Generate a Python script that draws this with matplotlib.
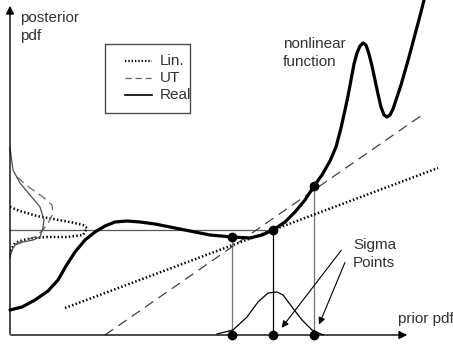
#  Unscented transform sketch: nonlinear function, linearisation vs UT
import numpy as np
import matplotlib.pyplot as plt

plt.rcParams['font.family'] = ['Liberation Sans', 'DejaVu Sans']

# nonlinear function (pixel units, y down)
fx = [10, 22, 35, 48, 58, 66, 75, 85, 95, 105, 115, 127, 140, 155, 170, 190,
      210, 232, 250, 262, 273, 285, 295, 305, 314, 322, 330, 336, 341, 345,
      348, 351, 354, 357, 360, 363, 366, 369, 372, 375, 378, 381, 384, 387,
      390, 393, 397, 401, 405, 409, 413, 417, 421, 424]
fy = [310, 307, 300, 291, 280, 266, 252, 240, 232, 226, 222, 221, 222, 224,
      227, 231, 235, 237, 238, 235, 230, 222, 212, 200, 186, 175, 161, 147,
      128, 110, 96, 80, 64, 53, 46, 43, 45, 54, 66, 80, 94, 107, 115, 117,
      115, 109, 97, 85, 71, 57, 42, 27, 12, 0]

# prior pdf along the x axis
px = [217, 233, 247, 258, 268, 277, 283, 292, 302, 312, 323]
py = [334, 330, 317, 302, 293, 292, 295, 307, 320, 330, 335]

# posterior pdfs along the y axis
real_x = [10, 13, 20, 30, 40, 44, 43, 40, 33, 23, 15, 12, 10]
real_y = [148, 170, 183, 195, 207, 220, 228, 237, 240, 242, 245, 250, 257]
ut_x = [17, 30, 43, 52, 53, 50, 43, 35, 25, 17, 12, 10]
ut_y = [177, 188, 197, 205, 213, 220, 230, 237, 240, 243, 250, 255]
lin_x = [10, 20, 37, 53, 70, 83, 87, 83, 67, 47, 33, 23, 15, 12, 10]
lin_y = [207, 211, 216, 219, 222, 225, 228, 235, 237, 237, 238, 240, 243, 248, 253]

# linearisation and UT regression lines (end points)
lin_line = ([65, 438], [308, 168])
ut_line = ([105, 425], [335, 113])

# sigma points
sig_x = [232, 273, 314]
sig_y = [237, 230, 186]
x_axis_y = 335

fig = plt.figure(figsize=(4.53, 3.47), dpi=100)
ax = fig.add_axes([0, 0, 1, 1])
ax.set_xlim(0, 453)
ax.set_ylim(347, 0)
ax.axis('off')

# axes with arrows
ax.annotate('', xy=(410, x_axis_y), xytext=(8, x_axis_y),
            arrowprops=dict(arrowstyle='-|>', color='black', lw=1.0,
                            mutation_scale=12))
ax.annotate('', xy=(10, 3), xytext=(10, 337),
            arrowprops=dict(arrowstyle='-|>', color='black', lw=1.0,
                            mutation_scale=12))

# horizontal line from middle sigma point to y axis
ax.plot([10, sig_x[1]], [sig_y[1], sig_y[1]], color='0.35', lw=0.9)

# vertical lines from sigma points down to x axis
for i, (sx, sy) in enumerate(zip(sig_x, sig_y)):
    ax.plot([sx, sx], [sy, x_axis_y], color='black' if i == 1 else '0.45', lw=0.9)

# regression lines
ax.plot(*lin_line, color='black', lw=1.8, ls=(0, (0.6, 0.9)))
ax.plot(*ut_line, color='0.25', lw=0.9, ls=(0, (8, 5)))

# posterior pdfs
ax.plot(lin_x, lin_y, color='black', lw=1.8, ls=(0, (0.6, 0.9)))
ax.plot(ut_x, ut_y, color='0.4', lw=0.9, ls=(0, (7, 4)))
ax.plot(real_x, real_y, color='0.3', lw=0.9)

# prior pdf
ax.plot(px, py, color='black', lw=0.9)

# nonlinear function
ax.plot(fx, fy, color='black', lw=2.3, solid_joinstyle='round', solid_capstyle='round')

# sigma points on curve and on axis
ax.plot(sig_x, sig_y, 'o', color='black', ms=6)
ax.plot(sig_x, [x_axis_y] * 3, 'o', color='black', ms=6)

# texts
fs = 11
ax.text(20, 27, 'posterior\npdf', fontsize=fs, va='center', ha='left',
        color='0.2', linespacing=1.3)
ax.text(283, 53, 'nonlinear\nfunction', fontsize=fs, va='center', ha='left',
        color='0.2', linespacing=1.3)
ax.text(353, 254, 'Sigma\nPoints', fontsize=fs, va='center', ha='left',
        color='0.2', linespacing=1.3)
ax.text(398, 319, 'prior pdf', fontsize=fs, va='center', ha='left', color='0.2')

# arrows to sigma points
ax.annotate('', xy=(280, 330), xytext=(343, 248),
            arrowprops=dict(arrowstyle='-|>', color='black', lw=0.8,
                            mutation_scale=10))
ax.annotate('', xy=(318, 327), xytext=(346, 260),
            arrowprops=dict(arrowstyle='-|>', color='black', lw=0.8,
                            mutation_scale=10))

# legend box
ax.add_patch(plt.Rectangle((105, 44), 85, 69, fill=False, ec='0.3', lw=1.0))
leg = [('Lin.', dict(color='black', lw=1.6, ls=(0, (0.6, 0.9)))),
       ('UT', dict(color='0.4', lw=0.9, ls=(0, (5, 3)))),
       ('Real', dict(color='black', lw=1.2))]
for k, (name, st) in enumerate(leg):
    yy = 61 + 17 * k
    ax.plot([125, 152], [yy, yy], **st)
    ax.text(160, yy, name, fontsize=fs, va='center', ha='left', color='0.2')

fig.savefig('out.png', dpi=100)
